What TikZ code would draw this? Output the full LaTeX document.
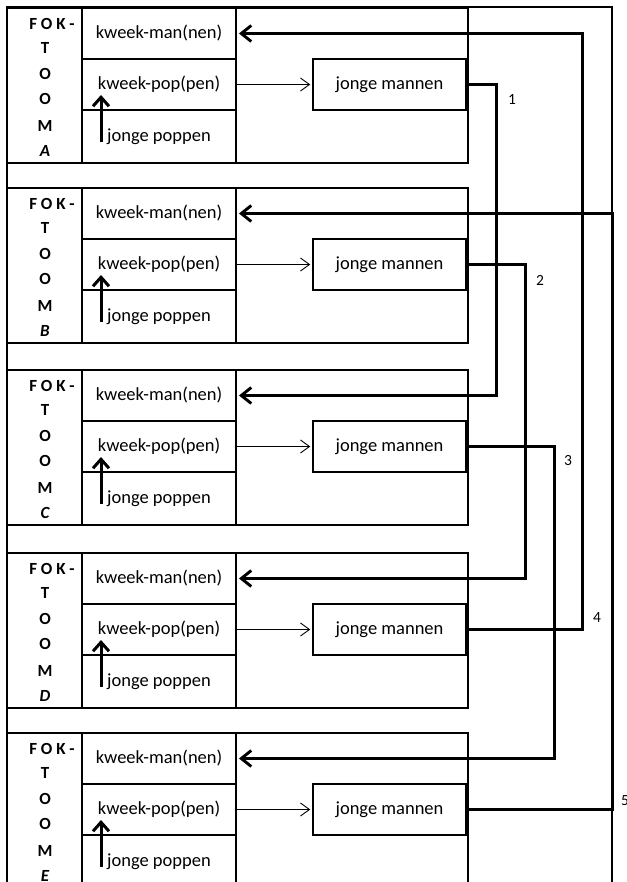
\documentclass[tikz,border=0pt]{standalone}
\usepackage{fontspec}
\setmainfont{Carlito}
\usetikzlibrary{arrows.meta}

\begin{document}
\begin{tikzpicture}[x=1pt,y=-1pt,
  frameline/.style={line width=1.5pt},
  blockline/.style={line width=2pt},
  cellbox/.style={draw, line width=2.7pt, minimum width=154pt, minimum height=51pt,
    inner sep=0pt, font=\fontsize{18.5}{20}\selectfont},
  youngbox/.style={cellbox, minimum width=153pt},
  farmtag/.style={inner sep=0pt, font=\fontsize{17}{19}\selectfont\bfseries},
  feed/.style={line width=0.9pt, shorten >=1.4pt, -{Straight Barb[length=9pt,width=13pt]}},
  rise/.style={line width=3pt, -{Straight Barb[length=9pt,width=16pt]}},
  transfer/.style={line width=2.9pt, shorten >=1.6pt, -{Straight Barb[length=10pt,width=16pt]}},
  num/.style={inner sep=0pt, font=\fontsize{15.5}{18}\selectfont},
]
\useasboundingbox (0,0) rectangle (626,882);
\clip (0,0) rectangle (626,882);

% outer frame
\draw[frameline] (7,900) -- (7,7) -- (612,7) -- (612,900);

% one block per breeding farm
\foreach \t/\L in {8/A,188/B,370/C,553/D,733/E} {
  \draw[blockline] (7,\t) rectangle (468,\t+155);
  \node[cellbox] (man-\L) at (159,\t+25.5) {kweek-man(nen)};
  \node[cellbox] (pop-\L) at (159,\t+76.5) {kweek-pop(pen)};
  \node[cellbox, minimum height=53pt] (young-\L) at (159,\t+128.5) {jonge poppen};
  \node[youngbox] (jm-\L) at (389.5,\t+76.5) {jonge mannen};
  \draw[feed] (pop-\L.east) -- (jm-\L.west);
  \coordinate (tail-\L) at (101,\t+134);
  \coordinate (head-\L) at (101,\t+87);
  \draw[rise] (tail-\L) -- (head-\L);
  % vertical farm name
  \node[farmtag] (fok-\L) at (52,\t+16) {F O K -};
  \foreach \dy/\c in {40/T,66/O,91/O,118/M} {
    \node[farmtag] (tag-\L-\dy) at (45,\t+\dy) {\c};
  }
  \node[farmtag] (name-\L) at (45,\t+143) {\itshape\L};
}

% young males moved on to another farm's breeding males
\draw[transfer] (jm-A.east) -- ++(29,0) |- (man-C.east);
\draw[transfer] (jm-B.east) -- ++(58,0) |- (man-D.east);
\draw[transfer] (jm-C.east) -- ++(87,0) |- (man-E.east);
\draw[transfer] (jm-D.east) -- ++(115,0) |- (man-A.east);
\draw[transfer] (jm-E.east) -- ++(145,0) |- (man-B.east);

\node[num] (n1) at (512,100) {1};
\node[num] (n2) at (540,280) {2};
\node[num] (n3) at (568,461) {3};
\node[num] (n4) at (597,618) {4};
\node[num] (n5) at (625,801) {5};
\end{tikzpicture}
\end{document}
